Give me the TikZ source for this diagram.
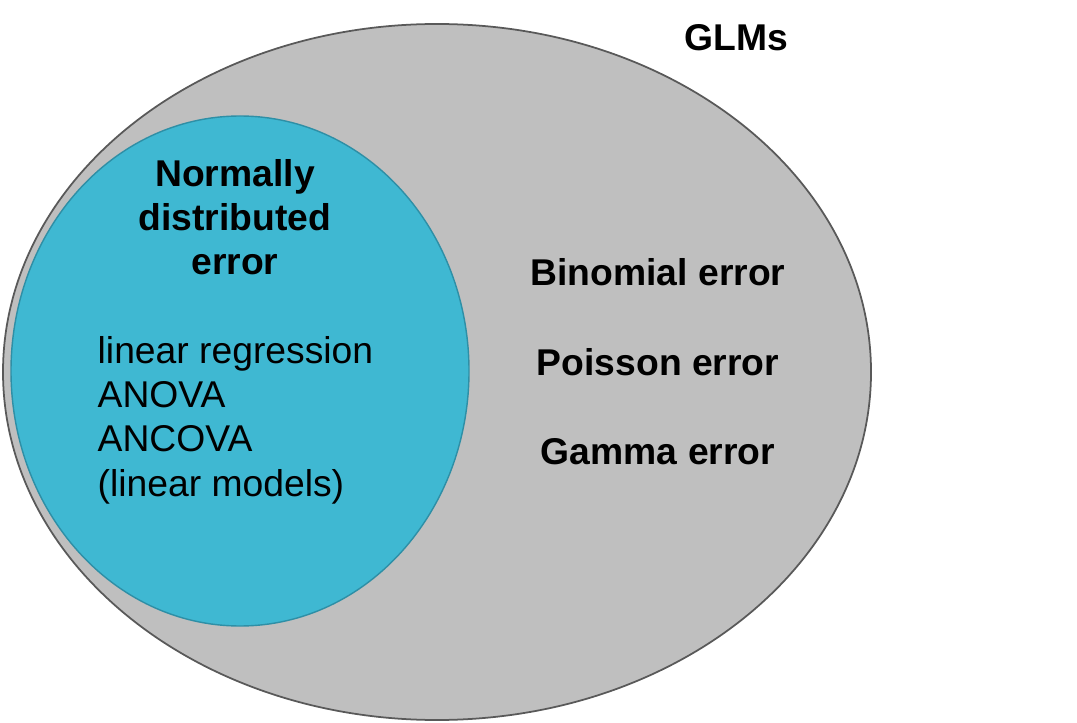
\documentclass[tikz,border=0pt]{standalone}
\usepackage{fontspec}
\setmainfont{Liberation Sans}
\usepackage{xcolor}
\definecolor{glmgray}{HTML}{BFBFBF}
\definecolor{glmline}{HTML}{595959}
\definecolor{lmblue}{HTML}{3FB8D2}
\definecolor{lmline}{HTML}{2E8FA6}
\begin{document}
\begin{tikzpicture}[
    x=0.01cm, y=-0.01cm,
    head/.style={font=\fontsize{10.6}{12.6}\selectfont\bfseries, align=center, inner sep=0pt},
    body/.style={font=\fontsize{10.6}{12.6}\selectfont, align=left, inner sep=0pt}
]
    \useasboundingbox (0,0) rectangle (1077,722);
    % outer set (GLMs) and inner set (linear models)
    \draw[fill=glmgray, draw=glmline, line width=0.5pt] (437,372) ellipse [x radius=434, y radius=348];
    \draw[fill=lmblue, draw=lmline, line width=0.4pt] (240,371) ellipse [x radius=229, y radius=255];

    % labels
    \node[head] (glm) at (736,38) {GLMs};
    \node[head] (normal) at (235,217) {Normally\\distributed\\error};
    \node[body, anchor=west] (lm) at (97,420) {linear regression\\ANOVA\\ANCOVA\\(linear models)};
    \node[head] (binom) at (658,272) {Binomial error};
    \node[head] (pois) at (658,362) {Poisson error};
    \node[head] (gamma) at (658,452) {Gamma error};
\end{tikzpicture}
\end{document}
